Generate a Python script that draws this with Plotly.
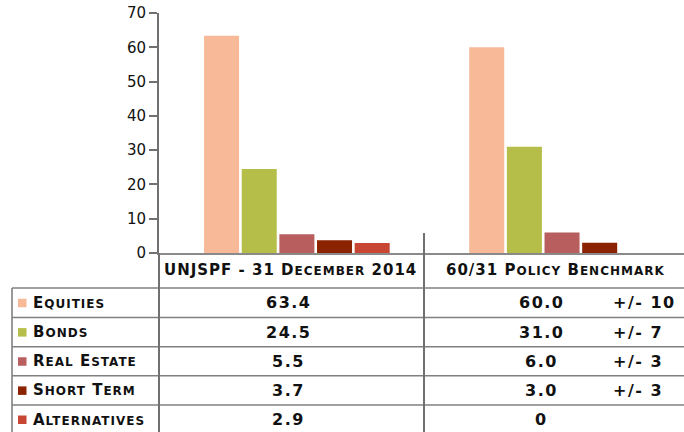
import plotly.graph_objects as go

# ---- data ----
groups = ["UNJSPF - 31 December 2014", "60/31 Policy Benchmark"]
asset_classes = ["Equities", "Bonds", "Real Estate", "Short Term", "Alternatives"]
unjspf_values = [63.4, 24.5, 5.5, 3.7, 2.9]
benchmark_values = [60.0, 31.0, 6.0, 3.0, 0.0]
benchmark_ranges = ["+/- 10", "+/- 7", "+/- 3", "+/- 3", ""]
colors = ["#F7B998", "#B5BE48", "#B85E5E", "#8B2200", "#C84634"]
y_ticks = [0, 10, 20, 30, 40, 50, 60, 70]

# ---- layout geometry (window pixels) ----
W, H = 684, 432
AX_X, Y_TOP, Y0 = 159, 13, 253           # y-axis x, pixel of value 70, pixel of value 0
ML, MT = AX_X, Y_TOP
MR, MB = 0, H - Y0
PW, PH = W - ML - MR, H - MT - MB


def px(xw):
    return (xw - ML) / PW


def py(yw):
    return (Y0 - yw) / PH


BIG, SMALL = 15, 12


def small_caps(text, big=BIG, small=SMALL):
    out = []
    run, run_small = "", None
    for ch in text:
        is_small = ch.islower()
        if run_small is None or is_small == run_small:
            run += ch
            run_small = is_small
        else:
            out.append((run, run_small))
            run, run_small = ch, is_small
    if run:
        out.append((run, run_small))
    parts = []
    for r, s in out:
        size = small if s else big
        parts.append(f"<span style='font-size:{size}px;letter-spacing:1px'>{r.upper()}</span>")
    return "".join(parts)


fig = go.Figure()
for i, name in enumerate(asset_classes):
    fig.add_trace(go.Bar(
        x=groups,
        y=[unjspf_values[i], benchmark_values[i]],
        name=name,
        marker=dict(color=colors[i], line=dict(width=0)),
        showlegend=False,
        hoverinfo="skip",
    ))

FAM = "DejaVu Sans"
TXT_FONT = dict(family=FAM, size=BIG, color="#111111", weight="bold")
NUM_FONT = dict(family=FAM, size=16, color="#111111", weight="bold")
LINE = dict(color="#808080", width=1.6)

shapes = []
annotations = []

row_lines = [288, 317.5, 346.7, 375.8, 405, 434]
header_center = 270

header_x = [290.5, 555]
for g, hx in zip(groups, header_x):
    annotations.append(dict(
        x=px(hx), y=py(header_center), xref="paper", yref="paper",
        text=small_caps(g), showarrow=False, xanchor="center", yanchor="middle",
        font=TXT_FONT,
    ))

for yl in row_lines[:-1]:
    shapes.append(dict(type="line", xref="paper", yref="paper",
                       x0=px(12), x1=px(W + 2), y0=py(yl), y1=py(yl), line=LINE))
shapes.append(dict(type="line", xref="paper", yref="paper",
                   x0=px(12), x1=px(12), y0=py(row_lines[0]), y1=py(H + 2), line=LINE))
shapes.append(dict(type="line", xref="paper", yref="paper",
                   x0=px(AX_X), x1=px(AX_X), y0=py(Y0), y1=py(H + 2),
                   line=dict(color="#707070", width=2)))
shapes.append(dict(type="line", xref="paper", yref="paper",
                   x0=px(424), x1=px(424), y0=py(233), y1=py(H + 2),
                   line=dict(color="#707070", width=2)))

for i, name in enumerate(asset_classes):
    top, bot = row_lines[i], row_lines[i + 1]
    yc = (top + bot) / 2
    shapes.append(dict(type="rect", xref="paper", yref="paper",
                       x0=px(18), x1=px(26.5), y0=py(yc - 4), y1=py(yc + 4.5),
                       fillcolor=colors[i], line=dict(width=0)))
    annotations.append(dict(
        x=px(31), y=py(yc), xref="paper", yref="paper",
        text=small_caps(name), showarrow=False, xanchor="left", yanchor="middle",
        font=TXT_FONT,
    ))
    annotations.append(dict(
        x=px(288), y=py(yc), xref="paper", yref="paper",
        text=f"<span style='letter-spacing:1.5px'>{unjspf_values[i]:.1f}</span>",
        showarrow=False, xanchor="center", yanchor="middle", font=NUM_FONT,
    ))
    bv = benchmark_values[i]
    btxt = "0" if bv == 0 else f"{bv:.1f}"
    annotations.append(dict(
        x=px(541), y=py(yc), xref="paper", yref="paper",
        text=f"<span style='letter-spacing:1.5px'>{btxt}</span>",
        showarrow=False, xanchor="center", yanchor="middle", font=NUM_FONT,
    ))
    if benchmark_ranges[i]:
        annotations.append(dict(
            x=px(611), y=py(yc), xref="paper", yref="paper",
            text=f"<span style='letter-spacing:1.5px'>{benchmark_ranges[i]}</span>",
            showarrow=False, xanchor="left", yanchor="middle", font=NUM_FONT,
        ))

fig.update_layout(
    width=W, height=H,
    margin=dict(l=ML, r=MR, t=MT, b=MB, pad=0),
    paper_bgcolor="white", plot_bgcolor="white",
    barmode="group", bargap=0.29, bargroupgap=0.07,
    xaxis=dict(type="category", range=[-0.52, 1.46], showticklabels=False, ticks="",
               showline=True, linecolor="#8a8a8a", linewidth=2, showgrid=False,
               zeroline=False, fixedrange=True),
    yaxis=dict(range=[0, 70], tickvals=y_ticks, ticks="outside", ticklen=8,
               tickwidth=2, tickcolor="#707070", showline=True, linecolor="#707070",
               linewidth=2, showgrid=False, zeroline=False,
               tickfont=dict(family="DejaVu Sans", size=15, color="#111111"),
               fixedrange=True),
    shapes=shapes,
    annotations=annotations,
)

fig.write_html(
    "out.html",
    config={"displayModeBar": False, "staticPlot": True},
    post_script="document.body.style.margin='0px';document.body.style.overflow='hidden';",
)
